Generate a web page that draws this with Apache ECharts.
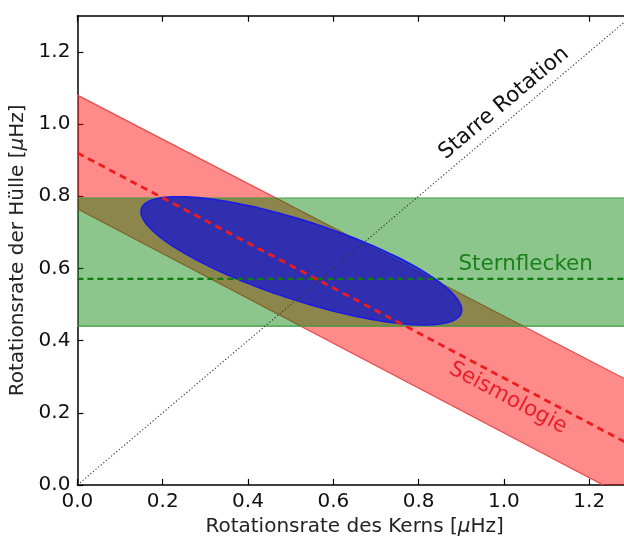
<!DOCTYPE html>
<html><head><meta charset="utf-8">
<script src="https://cdn.jsdelivr.net/npm/echarts@6/dist/echarts.min.js"></script>
<style>html,body{margin:0;padding:0;background:#fff}#c{width:624px;height:536px}</style>
</head><body><div id="c"></div>
<script>
// axis extents / ticks
const axisMin = 0, axisMax = 1.3, tickStep = 0.2;
// Seismology band (lines at x = seisX)
const seisX = [0, 1.3];
const seisUpper = [1.08, 0.284];
const seisMid = [0.92, 0.109];
const seisLower = [0.765, -0.042];
// Starspot band: lower, mid, upper
const spotLower = 0.44, spotMid = 0.571, spotUpper = 0.795;
// rigid rotation diagonal
const rigidX = [0, 1.3], rigidY = [0, 1.3];
// combined constraint ellipse: centre, semi-axes, angle (deg)
const ellCenter = [0.525, 0.621];
const ellAxes = [0.402, 0.107];
const ellAngle = -21.5;
// annotations
const annText = ['Starre Rotation', 'Sternflecken', 'Seismologie'];
const annX = [1.0, 1.051, 1.009];
const annY = [1.057, 0.612, 0.241];
const annRot = [40, 0, -28];
const annColor = ['#111111', '#1a801a', '#e8202a'];

const FONT = 'DejaVu Sans';
const chart = echarts.init(document.getElementById('c'), null, {renderer: 'canvas'});

function axisCommon(pos, showLabel, name, gap) {
  return {
    type: 'value', min: axisMin, max: axisMax, interval: tickStep, position: pos,
    axisLine: {show: true, onZero: false, lineStyle: {color: '#000', width: 1.5}},
    axisTick: {show: true, inside: true, length: 6, lineStyle: {color: '#000', width: 1.2}},
    axisLabel: {show: showLabel, showMaxLabel: false, formatter: v => v.toFixed(1),
      fontSize: 20, color: '#111', fontFamily: FONT, margin: 7},
    splitLine: {show: false},
    name: name, nameLocation: 'middle', nameGap: gap,
    nameTextStyle: {fontSize: 20, color: '#222', fontFamily: FONT,
      rich: {i: {fontStyle: 'italic', fontSize: 20, color: '#222', fontFamily: FONT}}}
  };
}

const option = {
  animation: false,
  backgroundColor: '#fff',
  grid: {left: 77.4, top: 15.7, width: 554.5, height: 469.3, containLabel: false, outerBoundsMode: 'none'},
  xAxis: [
    axisCommon('bottom', true, 'Rotationsrate des Kerns [{i|μ}Hz]', 30),
    axisCommon('top', false, '', 0)
  ],
  yAxis: [
    axisCommon('left', true, 'Rotationsrate der Hülle [{i|μ}Hz]', 45),
    axisCommon('right', false, '', 0)
  ],
  series: [
    { // seismology band
      type: 'custom', clip: true, data: [[0]], z: 1,
      renderItem: (params, api) => {
        const pts = [
          api.coord([seisX[0], seisUpper[0]]), api.coord([seisX[1], seisUpper[1]]),
          api.coord([seisX[1], seisLower[1]]), api.coord([seisX[0], seisLower[0]])
        ];
        return {type: 'polygon', shape: {points: pts},
          style: {fill: 'rgba(255,0,0,0.46)', stroke: '#e84a4a', lineWidth: 1.2}};
      }
    },
    { // starspot band
      type: 'custom', clip: true, data: [[0]], z: 2,
      renderItem: (params, api) => {
        const pts = [
          api.coord([axisMin, spotUpper]), api.coord([axisMax, spotUpper]),
          api.coord([axisMax, spotLower]), api.coord([axisMin, spotLower])
        ];
        return {type: 'polygon', shape: {points: pts},
          style: {fill: 'rgba(0,128,0,0.45)', stroke: '#3c9a3c', lineWidth: 1.2}};
      }
    },
    { // ellipse
      type: 'custom', clip: true, data: [[0]], z: 3,
      renderItem: (params, api) => {
        const pts = [];
        const th = ellAngle * Math.PI / 180;
        for (let k = 0; k < 180; k++) {
          const t = k / 180 * 2 * Math.PI;
          const dx = ellAxes[0] * Math.cos(t), dy = ellAxes[1] * Math.sin(t);
          pts.push(api.coord([ellCenter[0] + dx * Math.cos(th) - dy * Math.sin(th),
                              ellCenter[1] + dx * Math.sin(th) + dy * Math.cos(th)]));
        }
        return {type: 'polygon', shape: {points: pts},
          style: {fill: 'rgba(25,25,200,0.8)', stroke: '#1a1ae6', lineWidth: 1.5}};
      }
    },
    { // rigid rotation
      type: 'line', data: rigidX.map((x, i) => [x, rigidY[i]]), symbol: 'none', z: 4,
      lineStyle: {color: '#333', width: 1.1, type: [1.2, 2.2]}
    },
    { // seismology centre
      type: 'line', data: seisX.map((x, i) => [x, seisMid[i]]), symbol: 'none', z: 5,
      lineStyle: {color: '#ee1c1c', width: 2.8, type: [7, 5]}
    },
    { // starspot centre
      type: 'line', data: [[axisMin, spotMid], [axisMax, spotMid]], symbol: 'none', z: 5,
      lineStyle: {color: '#117a11', width: 2.2, type: [6, 4]}
    },
    { // annotations
      type: 'custom', clip: false, data: annText.map((t, i) => [annX[i], annY[i], i]), z: 6,
      renderItem: (params, api) => {
        const i = api.value(2);
        const p = api.coord([api.value(0), api.value(1)]);
        return {type: 'text', x: p[0], y: p[1], rotation: annRot[i] * Math.PI / 180,
          style: {text: annText[i], fill: annColor[i], font: '21.5px "DejaVu Sans"',
            align: 'center', verticalAlign: 'middle'}};
      }
    }
  ]
};
chart.setOption(option);
</script></body></html>
